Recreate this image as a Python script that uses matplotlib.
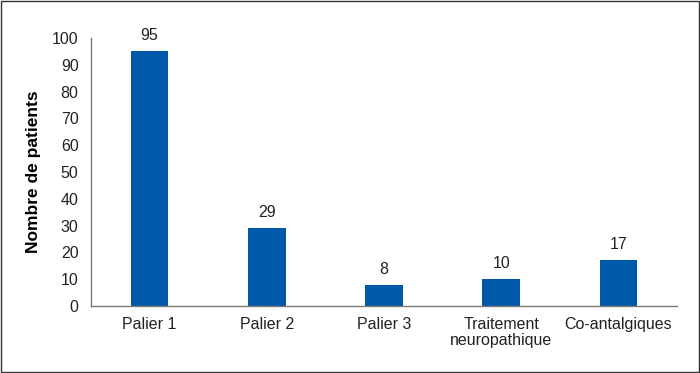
import matplotlib
matplotlib.use("Agg")
import matplotlib.pyplot as plt
from matplotlib.patches import Rectangle

categories = ["Palier 1", "Palier 2", "Palier 3", "Traitement\nneuropathique", "Co-antalgiques"]
patients = [95, 29, 8, 10, 17]

plt.rcParams["font.family"] = ["Liberation Sans", "DejaVu Sans"]

fig = plt.figure(figsize=(7, 3.73), dpi=100)
ax = fig.add_axes([0.13, 0.1796, 0.837, 0.7184])

x = range(len(categories))
bars = ax.bar(x, patients, width=0.32, color="#0058A8")
for b, v in zip(bars, patients):
    ax.text(b.get_x() + b.get_width() / 2, v + 3, str(v),
            ha="center", va="bottom", fontsize=11.5, color="#222222")

ax.set_xlim(-0.5, len(categories) - 0.5)
ax.set_ylim(0, 100)
ax.set_yticks(range(0, 101, 10))
ax.set_xticks(list(x))
ax.set_xticklabels(categories, fontsize=11.5, color="#222222", linespacing=1.05)
ax.tick_params(axis="both", length=0, labelsize=11.5, colors="#222222")
ax.tick_params(axis="y", pad=9)
ax.tick_params(axis="x", pad=8)
ax.set_ylabel("Nombre de patients", fontsize=12.5, fontweight="bold", labelpad=8)

for s in ["top", "right"]:
    ax.spines[s].set_visible(False)
for s in ["left", "bottom"]:
    ax.spines[s].set_color("#7a7a7a")
    ax.spines[s].set_linewidth(1.0)

# thin frame around the whole figure
fig.patches.append(Rectangle((0.002, 0.003), 0.996, 0.994, transform=fig.transFigure,
                             fill=False, edgecolor="#333333", linewidth=1.0))

fig.savefig("out.png", dpi=100)
